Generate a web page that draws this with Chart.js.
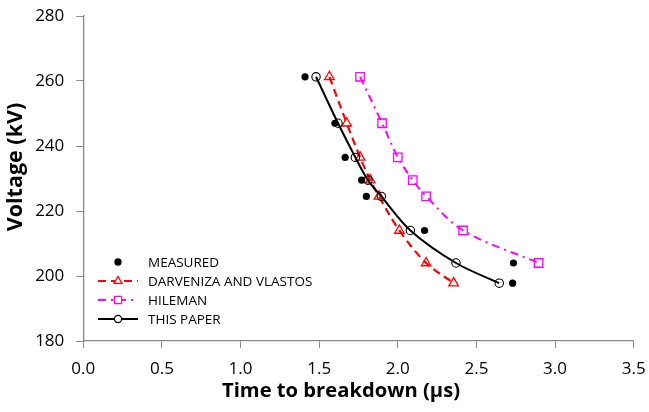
<!DOCTYPE html>
<html>
<head>
<meta charset="utf-8">
<script src="https://cdn.jsdelivr.net/npm/chart.js@4.4.1/dist/chart.umd.min.js"></script>
<style>
  html, body { margin: 0; padding: 0; background: #fff; }
  #wrap { width: 649px; height: 412px; }
</style>
</head>
<body>
<div id="wrap"><canvas id="breakdownChart" width="649" height="412"></canvas></div>
<script>
// DATA
const voltage = [261.3, 247, 236.5, 229.5, 224.5, 214, 204, 197.8];
const measuredTime = [1.41, 1.60, 1.665, 1.77, 1.80, 2.17, 2.735, 2.73];
const darvenizaTime = [1.565, 1.675, 1.76, 1.825, 1.88, 2.01, 2.18, 2.355];
const hilemanTime = [1.76, 1.90, 2.00, 2.095, 2.18, 2.415, 2.895];
const thisPaperTime = [1.48, 1.62, 1.73, 1.81, 1.895, 2.08, 2.37, 2.645];
const xTicks = [0, 0.5, 1, 1.5, 2, 2.5, 3, 3.5];
const yTicks = [180, 200, 220, 240, 260, 280];
const xTitle = 'Time to breakdown (\u00b5s)';
const yTitle = 'Voltage (kV)';

const FONT = "'Open Sans', 'Liberation Sans', sans-serif";
const AXIS_GRAY = '#888888';

const toPoints = (times) => times.map((t, i) => ({ x: t, y: voltage[i] }));

// AXIS TITLES (placed like the spreadsheet does, slightly left of centre)
const axisTitles = {
  id: 'axisTitles',
  afterDraw(chart) {
    const ctx = chart.ctx;
    ctx.save();
    ctx.fillStyle = '#000';
    ctx.textAlign = 'center';
    ctx.textBaseline = 'middle';
    ctx.font = 'bold 20.2px ' + FONT;
    ctx.fillText(xTitle, 341, 391);
    ctx.translate(16, 167);
    ctx.rotate(-Math.PI / 2);
    ctx.font = 'bold 21.5px ' + FONT;
    ctx.fillText(yTitle, 0, 0);
    ctx.restore();
  }
};

// LEGEND drawn inside the plot, lower left
const insideLegend = {
  id: 'insideLegend',
  afterDraw(chart) {
    const ctx = chart.ctx;
    const x0 = 98, lineLen = 40, textX = 148;
    let y = 262;
    ctx.save();
    ctx.font = '13.5px ' + FONT;
    ctx.textBaseline = 'middle';
    chart.data.datasets.forEach(ds => {
      if (ds.showLine !== false) {
        ctx.beginPath();
        ctx.setLineDash(ds.borderDash || []);
        ctx.strokeStyle = ds.borderColor;
        ctx.lineWidth = ds.borderWidth;
        ctx.moveTo(x0, y);
        ctx.lineTo(x0 + lineLen, y);
        ctx.stroke();
        ctx.setLineDash([]);
      }
      const marker = { pointStyle: ds.pointStyle, radius: ds.pointRadius * 0.85, borderWidth: 1.2 };
      ctx.fillStyle = ds.pointBackgroundColor === 'transparent' ? '#fff' : ds.pointBackgroundColor;
      ctx.strokeStyle = ds.pointBorderColor;
      ctx.lineWidth = 1.2;
      Chart.helpers.drawPoint(ctx, marker, x0 + lineLen / 2, y);
      ctx.fillStyle = '#000';
      ctx.fillText(ds.label, textX, y + 1);
      y += 19;
    });
    ctx.restore();
  }
};

const ctx = document.getElementById('breakdownChart').getContext('2d');
new Chart(ctx, {
  type: 'line',
  data: {
    datasets: [
      {
        label: 'MEASURED',
        data: toPoints(measuredTime),
        showLine: false,
        pointStyle: 'circle',
        pointRadius: 3.6,
        pointBackgroundColor: '#000',
        pointBorderColor: '#000',
        pointBorderWidth: 0,
        borderColor: '#000',
        order: 3
      },
      {
        label: 'DARVENIZA AND VLASTOS',
        data: toPoints(darvenizaTime),
        borderColor: '#ff0000',
        borderWidth: 2.2,
        borderDash: [8, 5],
        tension: 0.35,
        pointStyle: 'triangle',
        pointRadius: 5.5,
        pointBackgroundColor: 'transparent',
        pointBorderColor: '#ff0000',
        pointBorderWidth: 1.3,
        order: 2
      },
      {
        label: 'HILEMAN',
        data: toPoints(hilemanTime),
        borderColor: '#ff00ff',
        borderWidth: 2,
        borderDash: [8, 5, 2, 5],
        tension: 0.35,
        pointStyle: 'rect',
        pointRadius: 6,
        pointBackgroundColor: 'transparent',
        pointBorderColor: '#ff00ff',
        pointBorderWidth: 1.3,
        order: 1
      },
      {
        label: 'THIS PAPER',
        data: toPoints(thisPaperTime),
        borderColor: '#000',
        borderWidth: 2,
        tension: 0.35,
        pointStyle: 'circle',
        pointRadius: 4.2,
        pointBackgroundColor: 'transparent',
        pointBorderColor: '#000',
        pointBorderWidth: 1.1,
        order: 0
      }
    ]
  },
  options: {
    responsive: false,
    animation: false,
    layout: { padding: 0 },
    plugins: {
      legend: { display: false },
      tooltip: { enabled: false }
    },
    scales: {
      x: {
        type: 'linear',
        min: 0,
        max: 3.5,
        afterFit: s => { s.height = 71; s.paddingRight = 15.3; s.paddingLeft = 0; },
        afterBuildTicks: s => { s.ticks = xTicks.map(v => ({ value: v })); },
        border: { color: AXIS_GRAY, width: 1.3 },
        grid: { drawOnChartArea: false, drawTicks: true, tickLength: 7, color: AXIS_GRAY },
        ticks: {
          color: '#000',
          padding: 11,
          font: { family: FONT, size: 17 },
          callback: v => v.toFixed(1)
        }
      },
      y: {
        type: 'linear',
        min: 180,
        max: 280,
        afterFit: s => { s.width = 83.3; s.paddingTop = 16; s.paddingBottom = 0; },
        afterBuildTicks: s => { s.ticks = yTicks.map(v => ({ value: v })); },
        border: { color: AXIS_GRAY, width: 1.3 },
        grid: { drawOnChartArea: false, drawTicks: true, tickLength: 7, color: AXIS_GRAY },
        ticks: {
          color: '#000',
          padding: 12,
          font: { family: FONT, size: 17 }
        }
      }
    }
  },
  plugins: [insideLegend, axisTitles]
});
</script>
</body>
</html>
